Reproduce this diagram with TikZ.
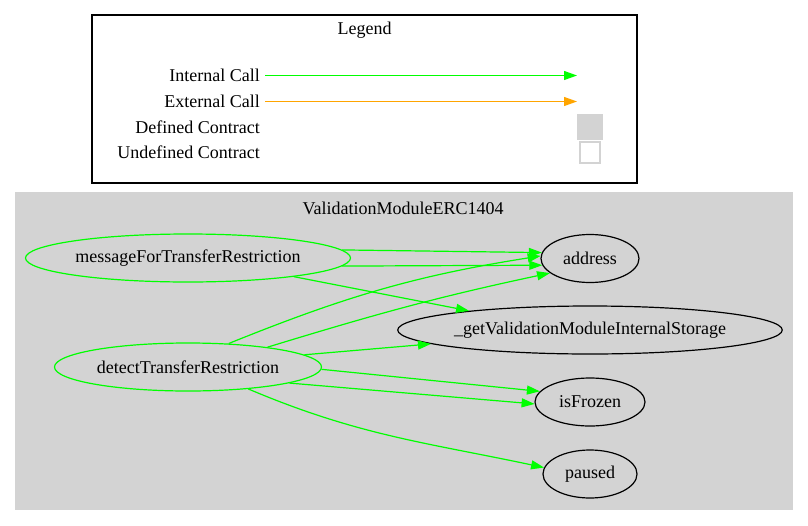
\documentclass[tikz,border=0pt]{standalone}
\usepackage{fontspec}
\setmainfont{Liberation Serif}
\usetikzlibrary{arrows.meta,shapes.geometric}
\definecolor{callgreen}{HTML}{00FF00}
\definecolor{callorange}{HTML}{FFA500}
\definecolor{clustergray}{HTML}{D3D3D3}
\newcommand\lbl{\fontsize{18}{20}\selectfont}

\begin{document}
\begin{tikzpicture}[x=1pt,y=-1pt,
    fn/.style={ellipse,draw,line width=1.2pt,inner sep=0pt,minimum height=48pt,font=\lbl},
    call/.style={draw=callgreen,line width=1.2pt,-{Triangle[length=13pt,width=9pt]}},
    ext/.style={draw=callorange,line width=1.2pt,-{Triangle[length=13pt,width=9pt]}},
    txt/.style={inner sep=0pt,font=\lbl}]
    \useasboundingbox (0,0) rectangle (808,525);

    % legend
    \coordinate (Legend) at (364.5,30);
    \coordinate (Intl) at (265,75.5);
    \coordinate (Intr) at (577,75.5);
    \coordinate (Extl) at (265,101.5);
    \coordinate (Extr) at (577,101.5);

    \draw[line width=1.2pt] (92,15) rectangle (637,183);
    \node[txt] (legtitle) at (Legend) {Legend};
    \node[txt,anchor=east] (inttxt) at (260,75) {Internal Call};
    \node[txt,anchor=east] (exttxt) at (260,101) {External Call};
    \node[txt,anchor=east] (deftxt) at (260,127) {Defined Contract};
    \node[txt,anchor=east] (undeftxt) at (260,152) {Undefined Contract};
    \node[fill=clustergray,inner sep=0pt,minimum size=26pt] (defsq) at (590,127) {};
    \node[draw=clustergray,line width=1.2pt,fill=white,inner sep=0pt,minimum width=20pt,minimum height=21pt] (undefsq) at (590,152.5) {};

    \draw[call] (Intl) -- (Intr);
    \draw[ext] (Extl) -- (Extr);

    % cluster
    \fill[clustergray] (15,192) rectangle (793,510);
    \node[txt] (cltitle) at (403,208) {ValidationModuleERC1404};

    \node[fn,draw=callgreen,minimum width=325pt] (msg) at (188,258) {messageForTransferRestriction};
    \node[fn,draw=callgreen,minimum width=267pt] (detect) at (188,367) {detectTransferRestriction};
    \node[fn,minimum width=98pt] (addr) at (590,258.5) {address};
    \node[fn,minimum width=384pt] (storage) at (590,330) {\_getValidationModuleInternalStorage};
    \node[fn,minimum width=110pt] (frozen) at (590,402) {isFrozen};
    \node[fn,minimum width=94pt] (paused) at (590,474) {paused};

    \draw[call] (msg.3) -- (addr.173);
    \draw[call] (msg.-3) -- (addr.188);
    \draw[call] (msg.-10) -- (storage.171);

    \draw[call] (detect.30) to[out=22,in=189] (addr.177);
    \draw[call] (detect.14) to[out=17,in=192] (addr.200);
    \draw[call] (detect.6) -- (storage.185);
    \draw[call] (detect.-1) -- (frozen.168);
    \draw[call] (detect.-9) -- (frozen.182);
    \draw[call] (detect.-20) to[out=-23,in=168] (paused.172);
\end{tikzpicture}
\end{document}
